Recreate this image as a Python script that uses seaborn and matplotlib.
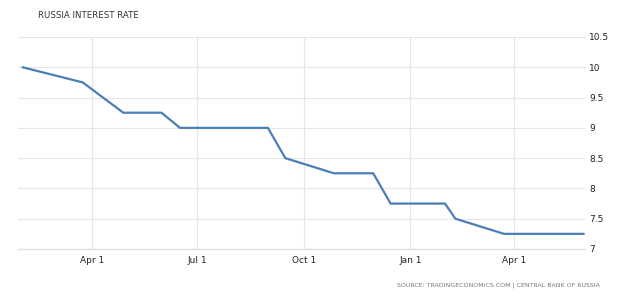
import matplotlib
matplotlib.use("Agg")
import matplotlib.pyplot as plt
import seaborn as sns
import pandas as pd

dates = ["2017-01-31", "2017-03-24", "2017-04-28", "2017-05-31", "2017-06-16",
         "2017-08-31", "2017-09-15", "2017-10-27", "2017-11-30", "2017-12-15",
         "2018-01-31", "2018-02-09", "2018-03-23", "2018-05-31"]
rates = [10.0, 9.75, 9.25, 9.25, 9.0, 9.0, 8.5, 8.25, 8.25, 7.75, 7.75, 7.5, 7.25, 7.25]

tick_dates = ["2017-04-01", "2017-07-01", "2017-10-01", "2018-01-01", "2018-04-01"]
tick_labels = ["Apr 1", "Jul 1", "Oct 1", "Jan 1", "Apr 1"]
y_ticks = [7, 7.5, 8, 8.5, 9, 9.5, 10, 10.5]
y_labels = ["7", "7.5", "8", "8.5", "9", "9.5", "10", "10.5"]

title = "RUSSIA INTEREST RATE"
source = "SOURCE: TRADINGECONOMICS.COM | CENTRAL BANK OF RUSSIA"

df = pd.DataFrame({"date": pd.to_datetime(dates), "rate": rates})

sns.set_theme(style="white")
plt.rcParams['font.family'] = ['DejaVu Sans']

fig = plt.figure(figsize=(6.4, 2.98), dpi=100)
ax = fig.add_axes([18/640, 1-249/298, (585-18)/640, (249-37)/298])

sns.lineplot(data=df, x="date", y="rate", ax=ax, color="#4a7fb5", linewidth=1.6)

ax.set_xlim(pd.Timestamp("2017-01-27"), pd.Timestamp("2018-06-01"))
ax.set_ylim(7, 10.5)
ax.set_xticks(pd.to_datetime(tick_dates))
ax.set_xticklabels(tick_labels)
ax.set_yticks(y_ticks)
ax.set_yticklabels(y_labels)
ax.yaxis.tick_right()
ax.grid(True, color="#e6e6e6", linewidth=0.8)
for s in ["top", "left", "right"]:
    ax.spines[s].set_visible(False)
ax.spines["bottom"].set_color("#e0e0e0")
ax.spines["bottom"].set_linewidth(1.0)
ax.tick_params(axis="x", length=3, color="#d0d0d0", labelsize=6.5, labelcolor="#222222", pad=2)
ax.tick_params(axis="y", length=0, labelsize=6.5, labelcolor="#222222", pad=3)
ax.set_xlabel("")
ax.set_ylabel("")

fig.text(38/640, 1-15/298, title, fontsize=6.2, color="#333333", va="center", ha="left")
fig.text(600/640, 1-285/298, source, fontsize=4.5, color="#777777", va="center", ha="right")

fig.savefig("out.png", dpi=100)
